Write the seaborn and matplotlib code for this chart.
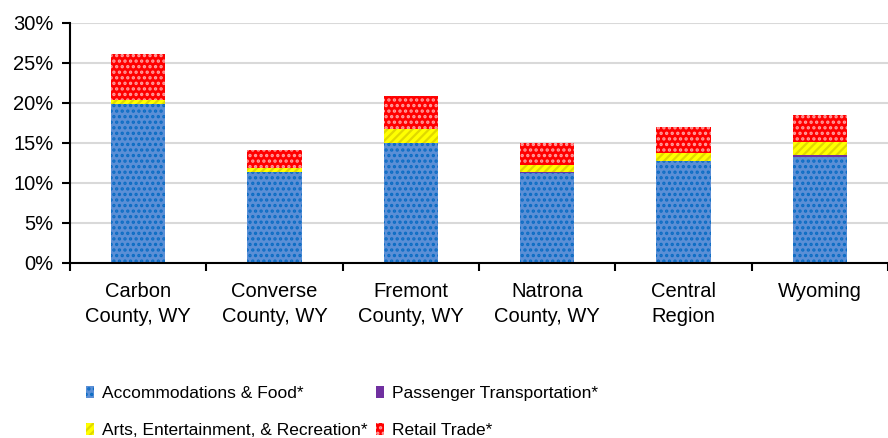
import numpy as np
import pandas as pd
import seaborn as sns
import matplotlib.pyplot as plt
from matplotlib.patches import Patch
from matplotlib.ticker import FuncFormatter, FixedLocator

# data (percent of employment)
regions = ['Carbon\nCounty, WY', 'Converse\nCounty, WY', 'Fremont\nCounty, WY',
           'Natrona\nCounty, WY', 'Central\nRegion', 'Wyoming']
accommodations = [19.9, 11.4, 15.0, 11.3, 12.75, 13.2]
passenger = [0.0, 0.0, 0.0, 0.05, 0.0, 0.35]
arts = [0.5, 0.5, 1.75, 0.9, 1.05, 1.6]
retail = [5.7, 2.2, 4.15, 2.75, 3.2, 3.4]

series_names = ['Accommodations & Food*', 'Passenger Transportation*',
                'Arts, Entertainment, & Recreation*', 'Retail Trade*']
styles = {
    'Accommodations & Food*': dict(color='#5B8FD6', edgecolor='#0A6CC4', hatch='...'),
    'Passenger Transportation*': dict(color='#7030A0', edgecolor='#7030A0', hatch=None),
    'Arts, Entertainment, & Recreation*': dict(color='#FFFF00', edgecolor='#E0D800', hatch='////'),
    'Retail Trade*': dict(color='#FF0000', edgecolor='#FFA0A0', hatch='...'),
}

df = pd.DataFrame({'region': regions,
                   'Accommodations & Food*': accommodations,
                   'Passenger Transportation*': passenger,
                   'Arts, Entertainment, & Recreation*': arts,
                   'Retail Trade*': retail})
cum = df[series_names].cumsum(axis=1)

sns.set_style('white')
plt.rcParams['font.family'] = ['Liberation Sans', 'DejaVu Sans']
plt.rcParams['text.color'] = 'black'
plt.rcParams['xtick.color'] = 'black'
plt.rcParams['ytick.color'] = 'black'
plt.rcParams['hatch.linewidth'] = 1.6

fig = plt.figure(figsize=(8.88, 4.38), dpi=100)
ax = fig.add_axes([70 / 888, 1 - 263 / 438, 818 / 888, 240 / 438])

# stacked bars: draw cumulative totals from top layer down
for name in reversed(series_names):
    st = styles[name]
    sns.barplot(x=df['region'], y=cum[name] / 100, order=regions, ax=ax,
                color=st['color'], saturation=1, width=0.4, errorbar=None,
                edgecolor=st['edgecolor'], hatch=st['hatch'], linewidth=0)

ax.set_xlim(-0.5, len(regions) - 0.5)
ax.set_ylim(0, 0.30)
ax.set_yticks(np.arange(0, 0.31, 0.05))
ax.yaxis.set_major_formatter(FuncFormatter(lambda v, p: f'{v * 100:.0f}%'))
ax.set_xlabel('')
ax.set_ylabel('')
ax.yaxis.grid(True, color='#D9D9D9', linewidth=1.5)
ax.set_axisbelow(True)

for s in ['top', 'right']:
    ax.spines[s].set_visible(False)
for s in ['left', 'bottom']:
    ax.spines[s].set_color('black')
    ax.spines[s].set_linewidth(1.5)

ax.tick_params(axis='y', which='major', left=True, length=6, width=1.5,
               labelsize=14.5, pad=6, labelcolor='black')
ax.tick_params(axis='x', which='major', length=0, labelsize=14.5, pad=14,
               labelcolor='black')
ax.xaxis.set_minor_locator(FixedLocator(np.arange(-0.5, len(regions), 1.0)))
ax.tick_params(axis='x', which='minor', bottom=True, length=6, width=1.5, color='black')
for lbl in ax.get_xticklabels():
    lbl.set_linespacing(1.35)

order = ['Accommodations & Food*', 'Arts, Entertainment, & Recreation*',
         'Passenger Transportation*', 'Retail Trade*']
handles = [Patch(facecolor=styles[n]['color'], edgecolor=styles[n]['edgecolor'],
                 hatch=styles[n]['hatch'], linewidth=0, label=n) for n in order]
fig.legend(handles=handles, loc='upper left', bbox_to_anchor=(86 / 888, 1 - 386 / 438),
           ncol=2, frameon=False, fontsize=12.5, handlelength=0.45, handleheight=0.7,
           handletextpad=0.5, columnspacing=0.45, labelspacing=1.27, borderpad=0,
           borderaxespad=0)

fig.savefig('out.png', dpi=100)
